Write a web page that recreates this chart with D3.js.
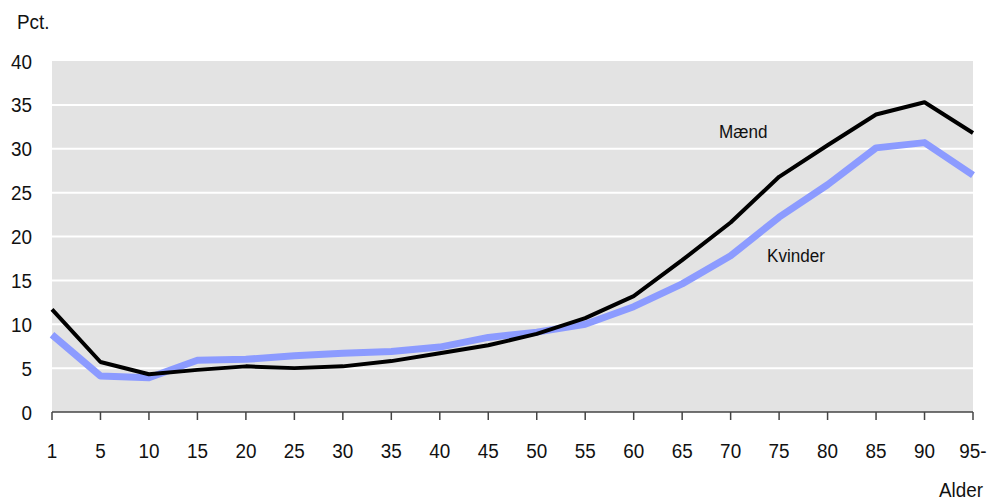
<!DOCTYPE html>
<html><head><meta charset="utf-8">
<script src="https://cdn.jsdelivr.net/npm/d3@7"></script>
<style>body{margin:0;background:#fff}svg{display:block}text{font-family:"Liberation Sans",Arial,sans-serif;fill:#111}</style>
</head><body>
<svg id="c" width="987" height="503"></svg>
<script>
const ages = ["1","5","10","15","20","25","30","35","40","45","50","55","60","65","70","75","80","85","90","95-"];
const maend   = [11.7,5.7,4.3,4.8,5.2,5.0,5.2,5.8,6.7,7.6,8.9,10.7,13.2,17.3,21.6,26.8,30.4,33.9,35.3,31.8];
const kvinder = [8.8,4.1,3.9,5.9,6.0,6.4,6.7,6.9,7.4,8.5,9.1,10.0,12.0,14.6,17.8,22.2,25.9,30.1,30.7,27.0];
const yTicks = [0,5,10,15,20,25,30,35,40];
const yLabel = "Pct.";
const xLabel = "Alder";
const seriesLabels = ["Mænd","Kvinder"];

const svg = d3.select("#c");
const L = 52, R = 973, T = 61, B = 412;
const x = d3.scalePoint().domain(ages).range([L, R]);
const y = d3.scaleLinear().domain([0, 40]).range([B, T]);
const sx = 0.9;
const txt = (g, s, px, py, anchor) => g.append("text")
  .attr("transform", `translate(${px},${py}) scale(${sx},1)`)
  .attr("text-anchor", anchor).attr("font-size", 21).text(s);

svg.append("rect").attr("x", L).attr("y", T).attr("width", R - L).attr("height", B - T).attr("fill", "#e3e3e3");
svg.append("g").selectAll("line").data(yTicks.filter(v => v > 0 && v < 40)).join("line")
  .attr("x1", L).attr("x2", R).attr("y1", d => y(d)).attr("y2", d => y(d))
  .attr("stroke", "#fff").attr("stroke-width", 2);

// x axis
const ax = svg.append("g");
ax.append("line").attr("x1", L).attr("x2", R).attr("y1", B).attr("y2", B).attr("stroke", "#444").attr("stroke-width", 1.5);
ages.forEach(a => {
  ax.append("line").attr("x1", x(a)).attr("x2", x(a)).attr("y1", B).attr("y2", B + 8).attr("stroke", "#444").attr("stroke-width", 1.5);
  txt(ax, a, x(a), 458, "middle");
});
// y labels
yTicks.forEach(v => txt(svg, String(v), 32, y(v) + 7.5, "end"));
txt(svg, yLabel, 17, 29, "start");
txt(svg, xLabel, 983, 497, "end");

const line = d3.line().x((d, i) => x(ages[i])).y(d => y(d));
svg.append("path").datum(kvinder).attr("d", line).attr("fill", "none")
  .attr("stroke", "#8c9bff").attr("stroke-width", 7).attr("stroke-linejoin", "round");
svg.append("path").datum(maend).attr("d", line).attr("fill", "none")
  .attr("stroke", "#000").attr("stroke-width", 4).attr("stroke-linejoin", "round");

txt(svg, seriesLabels[0], 719, 138, "start").attr("font-size", 19);
txt(svg, seriesLabels[1], 767, 262, "start").attr("font-size", 19);
</script>
</body></html>
